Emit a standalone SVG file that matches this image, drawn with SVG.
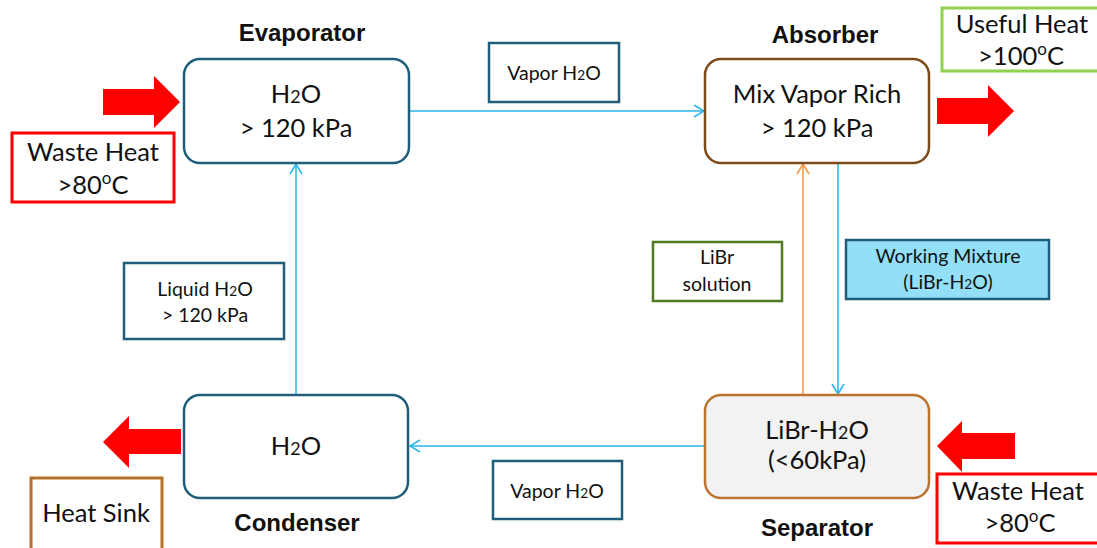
<svg xmlns="http://www.w3.org/2000/svg" width="1097" height="548" viewBox="0 0 1097 548">
  <defs>
    <marker id="arrBlue" markerWidth="12" markerHeight="14" refX="11" refY="7" orient="auto" markerUnits="userSpaceOnUse">
      <path d="M1,1 L11,7 L1,13" fill="none" stroke="#29B5E8" stroke-width="1.5"/>
    </marker>
    <marker id="arrOrange" markerWidth="12" markerHeight="14" refX="11" refY="7" orient="auto" markerUnits="userSpaceOnUse">
      <path d="M1,1 L11,7 L1,13" fill="none" stroke="#F79646" stroke-width="1.5"/>
    </marker>
    <style>
      .node { fill: #ffffff; stroke-width: 2.5; }
      .teal { stroke: #1F5E7A; }
      .lbl { fill: #ffffff; stroke: #1F5E7A; stroke-width: 2.5; }
      .big { font-family: Lato, "Open Sans", sans-serif; font-size: 25.5px; fill: #111111; text-anchor: middle; }
      .small { font-family: Lato, "Open Sans", sans-serif; font-size: 19.5px; fill: #111111; text-anchor: middle; }
      .head { font-family: "Liberation Sans", Arial, sans-serif; font-weight: bold; font-size: 24px; fill: #111111; text-anchor: middle; }
      .conn { fill: none; stroke: #29B5E8; stroke-width: 1.5; }
      .connO { fill: none; stroke: #F79646; stroke-width: 1.5; }
      .red { fill: #FF0000; }
      .sub { font-size: 70%; }
    </style>
  </defs>

  <g id="connectors">
    <line class="conn" x1="409" y1="111" x2="704" y2="111" marker-end="url(#arrBlue)"/>
    <line class="conn" x1="838" y1="163" x2="838" y2="394" marker-end="url(#arrBlue)"/>
    <line class="connO" x1="803" y1="395" x2="803" y2="164" marker-end="url(#arrOrange)"/>
    <line class="conn" x1="705" y1="446" x2="410" y2="446" marker-end="url(#arrBlue)"/>
    <line class="conn" x1="296" y1="395" x2="296" y2="164" marker-end="url(#arrBlue)"/>
  </g>

  <g id="evaporator">
    <rect class="node teal" x="184" y="59" width="225" height="104" rx="16"/>
    <text class="big" x="296" y="103">H<tspan class="sub">2</tspan>O</text>
    <text class="big" x="296" y="137">&gt; 120 kPa</text>
    <text class="head" x="302" y="41">Evaporator</text>
  </g>

  <g id="absorber">
    <rect class="node" x="705" y="59" width="224" height="104" rx="16" stroke="#7F4A1A"/>
    <text class="big" x="817" y="103">Mix Vapor Rich</text>
    <text class="big" x="817" y="137">&gt; 120 kPa</text>
    <text class="head" x="825" y="43">Absorber</text>
  </g>

  <g id="separator">
    <rect x="705" y="395" width="224" height="103" rx="16" fill="#F2F2F2" stroke="#BB7430" stroke-width="2.5"/>
    <text class="big" x="817" y="439">LiBr-H<tspan class="sub">2</tspan>O</text>
    <text class="big" x="817" y="469">(&lt;60kPa)</text>
    <text class="head" x="817" y="536">Separator</text>
  </g>

  <g id="condenser">
    <rect class="node teal" x="184" y="395" width="224" height="103" rx="16"/>
    <text class="big" x="296" y="455">H<tspan class="sub">2</tspan>O</text>
    <text class="head" x="297" y="531">Condenser</text>
  </g>

  <g id="label-vapor-top">
    <rect class="lbl" x="489" y="43" width="130" height="59"/>
    <text class="small" x="554" y="80">Vapor H<tspan class="sub">2</tspan>O</text>
  </g>

  <g id="label-vapor-bottom">
    <rect class="lbl" x="493" y="461" width="129" height="58"/>
    <text class="small" x="557" y="498">Vapor H<tspan class="sub">2</tspan>O</text>
  </g>

  <g id="label-liquid">
    <rect class="lbl" x="124" y="263" width="160" height="76"/>
    <text class="small" x="205" y="296">Liquid H<tspan class="sub">2</tspan>O</text>
    <text class="small" x="205" y="322">&gt; 120 kPa</text>
  </g>

  <g id="label-libr">
    <rect x="653" y="242" width="129" height="59" fill="#ffffff" stroke="#4E7A23" stroke-width="2.5"/>
    <text class="small" x="717" y="264">LiBr</text>
    <text class="small" x="717" y="291">solution</text>
  </g>

  <g id="label-working">
    <rect x="846" y="240" width="203" height="59" fill="#93DFF8" stroke="#1F5E7A" stroke-width="2.5"/>
    <text class="small" x="948" y="263">Working Mixture</text>
    <text class="small" x="948" y="289">(LiBr-H<tspan class="sub">2</tspan>O)</text>
  </g>

  <g id="waste-heat-left">
    <polygon class="red" points="103,89 154,89 154,76 180,102 154,128 154,115 103,115"/>
    <rect x="12" y="133" width="162" height="69" fill="#ffffff" stroke="#FF0000" stroke-width="3"/>
    <text class="big" x="93" y="161">Waste Heat</text>
    <text class="big" x="93" y="194">&gt;80<tspan font-size="17" dy="-10">o</tspan><tspan dy="10">C</tspan></text>
  </g>

  <g id="useful-heat">
    <polygon class="red" points="937,98 988,98 988,85 1014,111 988,137 988,124 937,124"/>
    <rect x="942" y="8" width="160" height="63" fill="#ffffff" stroke="#92D050" stroke-width="3"/>
    <text class="big" x="1022" y="33">Useful Heat</text>
    <text class="big" x="1021" y="65">&gt;100<tspan font-size="17" dy="-10">o</tspan><tspan dy="10">C</tspan></text>
  </g>

  <g id="waste-heat-right">
    <polygon class="red" points="1015,433 962,433 962,421 937,446 962,472 962,459 1015,459"/>
    <rect x="937" y="474" width="165" height="69" fill="#ffffff" stroke="#FF0000" stroke-width="3"/>
    <text class="big" x="1018" y="500">Waste Heat</text>
    <text class="big" x="1020" y="532">&gt;80<tspan font-size="17" dy="-10">o</tspan><tspan dy="10">C</tspan></text>
  </g>

  <g id="heat-sink">
    <polygon class="red" points="181,429 129,429 129,416 103,442 129,468 129,454 181,454"/>
    <rect x="31" y="478" width="131" height="75" fill="#ffffff" stroke="#B8702E" stroke-width="3"/>
    <text class="big" x="96" y="522">Heat Sink</text>
  </g>
</svg>
